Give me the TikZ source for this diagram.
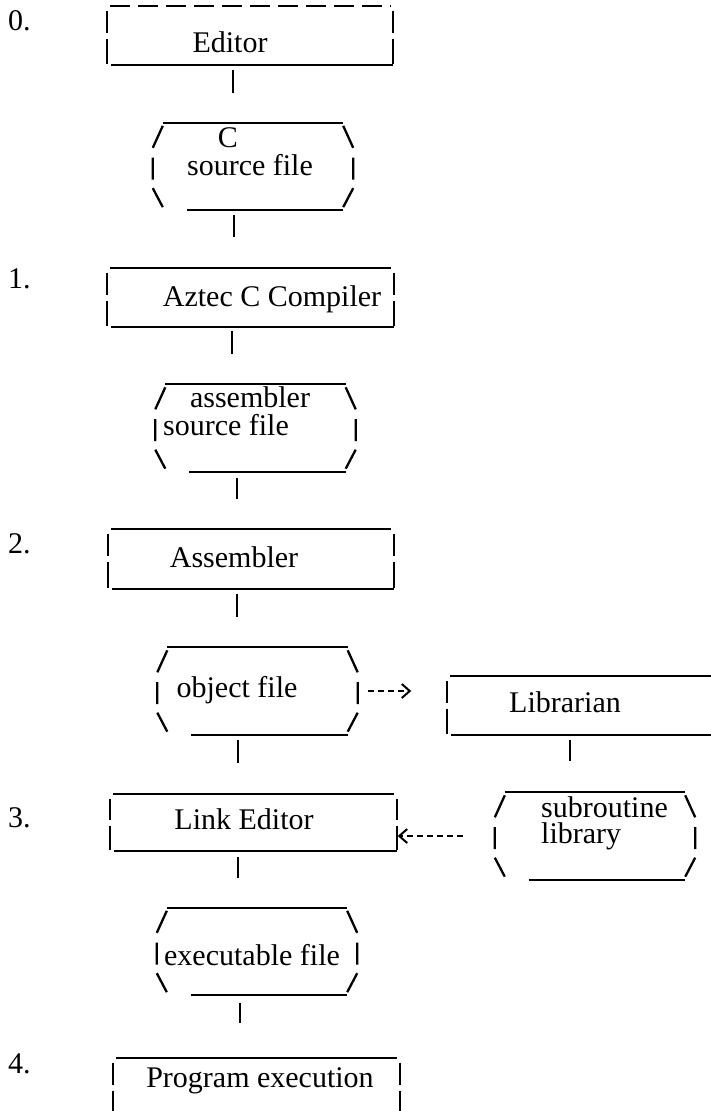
\documentclass[tikz,border=0pt]{standalone}
\usepackage{fontspec}
\setmainfont{Liberation Serif}
\usetikzlibrary{arrows.meta,calc}

\tikzset{
  frame/.style={line width=2.3pt},
  tick/.style={line width=2.3pt},
  dasharrow/.style={line width=2pt, dash pattern=on 6pt off 4pt,
    -{Straight Barb[length=8pt,width=14pt]}},
  rectbox/.style={minimum width=286pt, minimum height=59pt, inner sep=0pt},
  filebox/.style={minimum width=200pt, minimum height=87pt, inner sep=0pt},
  lbl/.style={anchor=base, inner sep=0pt, font=\fontsize{30}{26}\selectfont},
}

% broken outline of a step box
\newcommand{\rectframe}[2][]{%
  \draw[frame,#1] ([xshift=3pt]#2.north west) -- ([xshift=-3pt]#2.north east);
  \draw[frame] ([xshift=4pt]#2.south west) -- (#2.south east);
  \draw[frame] ([yshift=-5pt]#2.north west) -- ([yshift=3pt]#2.west)
               ([yshift=-3pt]#2.west) -- ([yshift=1pt]#2.south west);
  \draw[frame] ([yshift=-5pt]#2.north east) -- ([yshift=3pt]#2.east)
               ([yshift=-3pt]#2.east) -- ([yshift=1pt]#2.south east);
}
% broken outline of a file box
\newcommand{\fileframe}[1]{%
  \draw[frame] ([xshift=10pt]#1.north west) -- ([xshift=-10pt]#1.north east);
  \draw[frame] ([xshift=34pt]#1.south west) -- ([xshift=-10pt]#1.south east);
  \draw[frame] ([xshift=10pt,yshift=-3pt]#1.north west) -- ([yshift=-25pt]#1.north west)
               ([yshift=9pt]#1.west) -- ([yshift=-13pt]#1.west)
               ([yshift=22pt]#1.south west) -- ([xshift=10pt,yshift=3pt]#1.south west);
  \draw[frame] ([xshift=-10pt,yshift=-3pt]#1.north east) -- ([yshift=-25pt]#1.north east)
               ([yshift=9pt]#1.east) -- ([yshift=-13pt]#1.east)
               ([yshift=22pt]#1.south east) -- ([xshift=-10pt,yshift=3pt]#1.south east);
}

\begin{document}
\begin{tikzpicture}[x=1pt,y=-1pt]
  \useasboundingbox (0,0) rectangle (711,1111);
  \clip (0,0) rectangle (711,1111);

  % boxes
  \node[rectbox] (edit)  at (250,35.5)   {};
  \node[filebox] (csrc)  at (253,166.5)  {};
  \node[rectbox] (aztec) at (250.5,297.5) {};
  \node[filebox] (asrc)  at (255.5,428)  {};
  \node[rectbox] (asm)   at (251,559)    {};
  \node[filebox] (obj)   at (257.5,691)  {};
  \node[rectbox] (lib)   at (590.5,705.5) {};
  \node[rectbox,minimum height=57pt] (link) at (253.5,822.5) {};
  \node[filebox] (sub)   at (595,836)    {};
  \node[filebox] (exe)   at (257,951.5)  {};
  \node[rectbox] (prog)  at (256.5,1087.5) {};

  \rectframe[dash pattern=on 20pt off 8pt]{edit}
  \rectframe{aztec}
  \rectframe{asm}
  \rectframe{lib}
  \rectframe{link}
  \rectframe{prog}
  \fileframe{csrc}
  \fileframe{asrc}
  \fileframe{obj}
  \fileframe{sub}
  \fileframe{exe}

  % texts
  \node[lbl] (edit-t)   at (230,52)   {Editor};
  \node[lbl] (csrc-t1)  at (228,147)  {C};
  \node[lbl] (csrc-t2)  at (250,175)  {source file};
  \node[lbl] (aztec-t)  at (272,306)  {Aztec C Compiler};
  \node[lbl] (asrc-t1)  at (250,407)  {assembler};
  \node[lbl] (asrc-t2)  at (226,435)  {source file};
  \node[lbl] (asm-t)    at (234,567)  {Assembler};
  \node[lbl] (obj-t)    at (237,697)  {object file};
  \node[lbl] (lib-t)    at (565,712)  {Librarian};
  \node[lbl] (link-t)   at (244,829)  {Link Editor};
  \node[lbl,align=left,anchor=north west] (sub-t) at (541,796) {subroutine\\library};
  \node[lbl] (exe-t)    at (252,965)  {executable file};
  \node[lbl] (prog-t)   at (260,1087) {Program execution};

  % step numbers
  \node[lbl,anchor=base west] (n0) at (8,30)   {0.};
  \node[lbl,anchor=base west] (n1) at (8,288)  {1.};
  \node[lbl,anchor=base west] (n2) at (8,553)  {2.};
  \node[lbl,anchor=base west] (n3) at (8,827)  {3.};
  \node[lbl,anchor=base west] (n4) at (8,1073) {4.};

  % connectors
  \draw[tick] ([xshift=-17pt,yshift=-5pt]edit.south)   -- ([xshift=-20pt,yshift=30pt]csrc.north);
  \draw[tick] ([xshift=-19pt,yshift=-5pt]csrc.south)   -- ([xshift=-16.5pt,yshift=31pt]aztec.north);
  \draw[tick] ([xshift=-18.5pt,yshift=-4pt]aztec.south) -- ([xshift=-23.5pt,yshift=30pt]asrc.north);
  \draw[tick] ([xshift=-18.5pt,yshift=-6pt]asrc.south) -- ([xshift=-14pt,yshift=30pt]asm.north);
  \draw[tick] ([xshift=-14pt,yshift=-5pt]asm.south)    -- ([xshift=-20.5pt,yshift=30pt]obj.north);
  \draw[tick] ([xshift=-19.5pt,yshift=-5pt]obj.south)  -- ([xshift=-15.5pt,yshift=31pt]link.north);
  \draw[tick] ([xshift=-20.5pt,yshift=-5pt]lib.south)  -- ([xshift=-25pt,yshift=31pt]sub.north);
  \draw[tick] ([xshift=-15.5pt,yshift=-6pt]link.south) -- ([xshift=-19pt,yshift=30pt]exe.north);
  \draw[tick] ([xshift=-17pt,yshift=-8pt]exe.south)    -- ([xshift=-16.5pt,yshift=35pt]prog.north);

  \draw[dasharrow] ([xshift=10pt]obj.east) -- ($(obj.east -| lib.west)+(-36pt,0pt)$);
  \draw[dasharrow] ([xshift=-32pt]sub.west) -- ($(sub.west -| link.east)+(1pt,0pt)$);
\end{tikzpicture}
\end{document}
